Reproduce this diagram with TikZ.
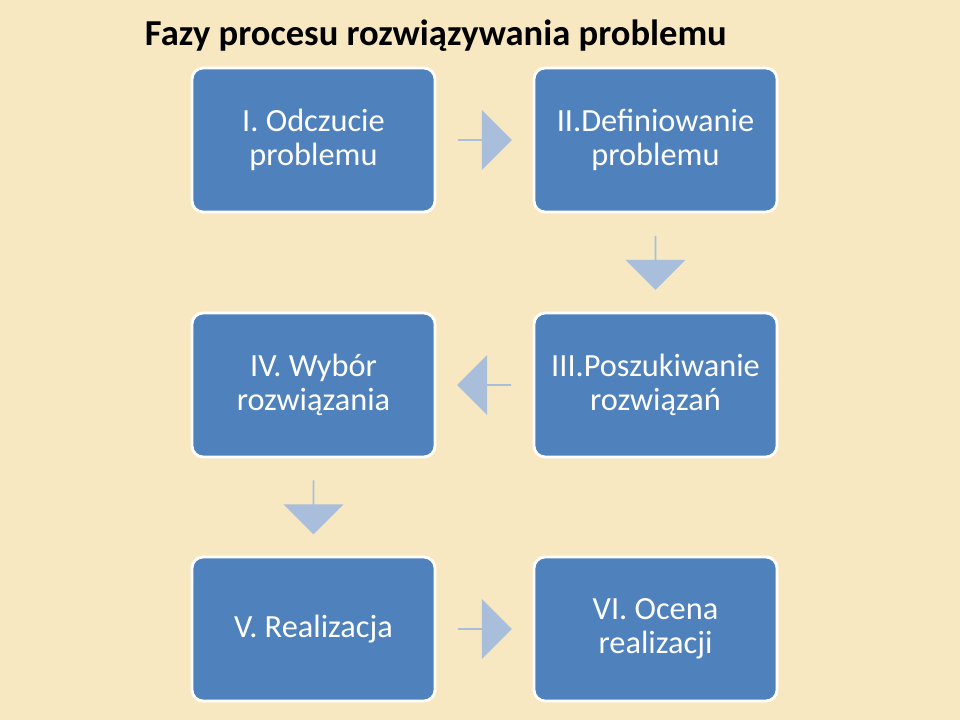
\documentclass[tikz,border=0pt]{standalone}
\usepackage{fontspec}
\setmainfont{Carlito}
\usetikzlibrary{shapes.arrows,calc}
\definecolor{bgcol}{HTML}{F7E8C2}
\definecolor{boxblue}{HTML}{4F81BD}
\definecolor{arrblue}{HTML}{A9BEDB}
\tikzset{
  phase/.style={rectangle,rounded corners=8pt,fill=boxblue,draw=white,line width=2pt,
    minimum width=6.075cm,minimum height=3.6cm,text=white,align=center,
    font=\fontsize{23}{24}\selectfont},
  blockarrow/.style={single arrow,fill=arrblue,draw=none,minimum height=1.35cm,
    minimum width=1.5cm,single arrow head extend=0.25cm,inner sep=0pt}
}
\begin{document}
\begin{tikzpicture}[x=0.025cm,y=-0.025cm]
  \fill[bgcol] (0,0) rectangle (960,720);
  \useasboundingbox (0,0) rectangle (960,720);
  \node[font=\bfseries\fontsize{26}{28}\selectfont,anchor=west] (title) at (140,36)
    {Fazy procesu rozwiązywania problemu};

  \node[phase] (odczucie) at (313.5,140) {I. Odczucie\\problemu};
  \node[phase] (definiowanie) at (655.5,140) {II.Definiowanie\\problemu};
  \node[phase] (poszukiwanie) at (655.5,385) {III.Poszukiwanie\\rozwiązań};
  \node[phase] (wybor) at (313.5,385) {IV. Wybór\\rozwiązania};
  \node[phase] (realizacja) at (313.5,629) {V. Realizacja};
  \node[phase] (ocena) at (655.5,629) {VI. Ocena\\realizacji};

  \node[blockarrow] (a1) at ($(odczucie)!0.5!(definiowanie)$) {};
  \node[blockarrow,rotate=-90] (a2) at ($(definiowanie)!0.5!(poszukiwanie)$) {};
  \node[blockarrow,rotate=180] (a3) at ($(poszukiwanie)!0.5!(wybor)$) {};
  \node[blockarrow,rotate=-90] (a4) at ($(wybor)!0.5!(realizacja)$) {};
  \node[blockarrow] (a5) at ($(realizacja)!0.5!(ocena)$) {};
\end{tikzpicture}
\end{document}
